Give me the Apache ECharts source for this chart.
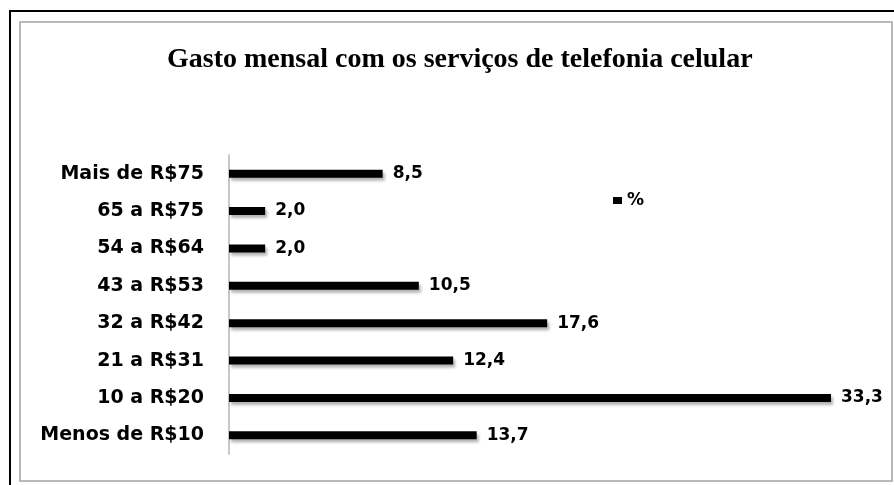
<!DOCTYPE html>
<html>
<head>
<meta charset="utf-8">
<style>
  html, body { margin: 0; padding: 0; background: #fff; }
  #chart { width: 894px; height: 485px; }
</style>
<script src="https://cdn.jsdelivr.net/npm/echarts@6/dist/echarts.min.js"></script>
</head>
<body>
<div id="chart"></div>
<script>
// faixas de gasto (de baixo para cima no eixo)
var categorias = ['Menos de R$10', '10 a R$20', '21 a R$31', '32 a R$42', '43 a R$53', '54 a R$64', '65 a R$75', 'Mais de R$75'];
var percentuais = [13.7, 33.3, 12.4, 17.6, 10.5, 2.0, 2.0, 8.5];
var titulo = 'Gasto mensal com os serviços de telefonia celular';

var chart = echarts.init(document.getElementById('chart'));

var labelFont = "'DejaVu Sans', 'Liberation Sans', sans-serif";

var option = {
  backgroundColor: '#fff',
  animation: false,
  title: {
    text: titulo,
    left: 162,
    top: 41,
    textStyle: {
      fontFamily: "'Liberation Serif', 'DejaVu Serif', serif",
      fontWeight: 'bold',
      fontSize: 28,
      color: '#000'
    }
  },
  legend: {
    data: ['%'],
    left: 608,
    top: 187,
    icon: 'rect',
    itemWidth: 9,
    itemHeight: 7,
    itemGap: 7,
    textStyle: {
      fontFamily: labelFont,
      fontWeight: 'bold',
      fontSize: 17,
      color: '#000'
    }
  },
  grid: {
    left: 229,
    right: 63,
    top: 155,
    bottom: 31,
    containLabel: false
  },
  xAxis: {
    type: 'value',
    min: 0,
    max: 33.3,
    show: false
  },
  yAxis: {
    type: 'category',
    data: categorias,
    axisLine: { show: true, lineStyle: { color: '#c8c8c8', width: 2 } },
    axisTick: { show: false },
    axisLabel: {
      margin: 25,
      fontFamily: labelFont,
      fontWeight: 'bold',
      fontSize: 19,
      color: '#000'
    }
  },
  series: [{
    name: '%',
    type: 'bar',
    data: percentuais,
    barWidth: 8,
    itemStyle: {
      color: '#000',
      shadowColor: 'rgba(0,0,0,0.3)',
      shadowBlur: 3,
      shadowOffsetX: 2,
      shadowOffsetY: 3
    },
    label: {
      show: true,
      position: 'right',
      distance: 10,
      fontFamily: labelFont,
      fontWeight: 'bold',
      fontSize: 17,
      color: '#000',
      formatter: function(p) {
        return p.value.toFixed(1).replace('.', ',');
      }
    }
  }],
  graphic: [
    {
      type: 'polyline',
      shape: { points: [[10, 485], [10, 11], [894, 11]] },
      style: { stroke: '#000', lineWidth: 2, fill: null }
    },
    {
      type: 'rect',
      shape: { x: 20, y: 22, width: 872, height: 459 },
      style: { stroke: '#b8b8b8', lineWidth: 2, fill: null }
    }
  ]
};

chart.setOption(option);
</script>
</body>
</html>
